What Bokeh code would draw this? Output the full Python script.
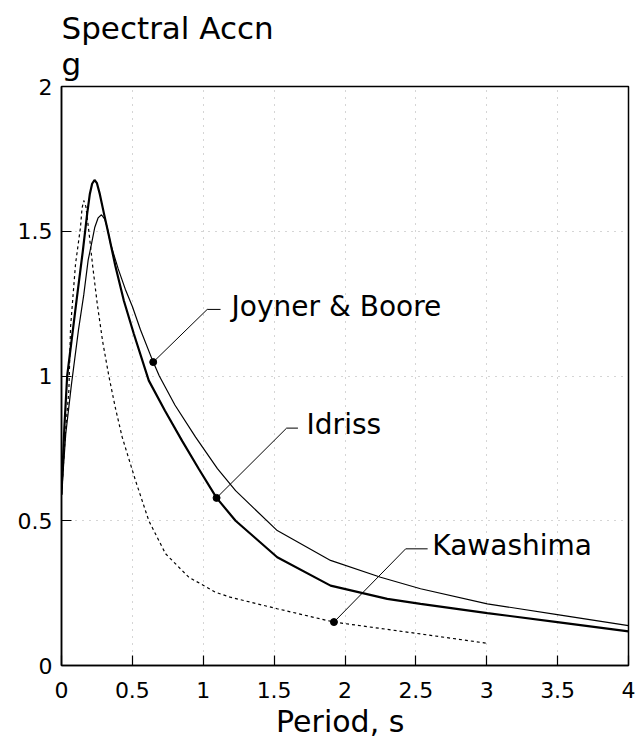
from bokeh.plotting import figure
from bokeh.models import Range1d, FixedTicker, NumeralTickFormatter
from bokeh.core.properties import value
from bokeh.embed import file_html
from bokeh.resources import INLINE

# ---- data ----
period_jb = [0.0, 0.03, 0.07, 0.12, 0.157, 0.188, 0.212, 0.235, 0.258, 0.282,
             0.305, 0.322, 0.346, 0.40, 0.45, 0.50, 0.557, 0.647, 0.69, 0.80,
             0.946, 1.10, 1.228, 1.522, 1.898, 2.251, 2.533, 3.004, 3.498, 4.0]
sa_jb = [0.59, 0.80, 0.97, 1.16, 1.28, 1.40, 1.457, 1.514, 1.546, 1.557,
         1.542, 1.514, 1.457, 1.37, 1.30, 1.24, 1.16, 1.048, 1.00, 0.90,
         0.789, 0.68, 0.604, 0.466, 0.363, 0.305, 0.265, 0.213, 0.176, 0.138]

period_id = [0.0, 0.02, 0.04, 0.106, 0.15, 0.181, 0.20, 0.216, 0.233, 0.25,
             0.27, 0.30, 0.334, 0.38, 0.44, 0.51, 0.616, 0.73, 0.852, 0.97,
             1.094, 1.228, 1.522, 1.898, 2.298, 2.533, 3.004, 3.498, 4.0]
sa_id = [0.59, 0.82, 1.00, 1.26, 1.43, 1.56, 1.629, 1.664, 1.677, 1.666,
         1.629, 1.56, 1.485, 1.38, 1.26, 1.146, 0.984, 0.88, 0.775, 0.678,
         0.579, 0.50, 0.374, 0.276, 0.230, 0.213, 0.181, 0.150, 0.118]

period_kw = [0.0, 0.03, 0.052, 0.064, 0.099, 0.134, 0.145, 0.157, 0.172, 0.193,
             0.22, 0.252, 0.29, 0.334, 0.38, 0.428, 0.522, 0.616, 0.734, 0.898,
             1.087, 1.19, 1.522, 1.922, 2.533, 3.0]
sa_kw = [0.59, 0.82, 0.95, 1.17, 1.387, 1.514, 1.58, 1.606, 1.585, 1.50,
         1.38, 1.25, 1.12, 1.00, 0.89, 0.789, 0.639, 0.50, 0.386, 0.305,
         0.253, 0.236, 0.196, 0.150, 0.109, 0.077]

label_names = ["Joyner & Boore", "Idriss", "Kawashima"]
marker_period = [0.647, 1.094, 1.922]
marker_sa = [1.048, 0.579, 0.150]
elbow_period = [1.028, 1.588, 2.428]
elbow_sa = [1.230, 0.820, 0.403]
end_period = [1.122, 1.668, 2.583]
label_period = [1.20, 1.729, 2.616]
label_sa = [1.240, 0.831, 0.414]

x_ticks = [0, 0.5, 1, 1.5, 2, 2.5, 3, 3.5, 4]
y_ticks = [0, 0.5, 1, 1.5, 2]

FONT = "DejaVu Sans"

p = figure(width=635, height=745, x_range=Range1d(0, 4), y_range=Range1d(0, 2),
           output_backend="svg", toolbar_location=None,
           min_border_left=61, min_border_right=7, min_border_top=86,
           min_border_bottom=80)

p.title.text = "Spectral Accn\ng"
p.title.text_font = FONT
p.title.text_font_size = "31px"
p.title.text_font_style = "normal"
p.title.align = "left"
p.title.text_color = "black"

p.outline_line_color = "black"
p.outline_line_width = 1.5
p.background_fill_color = "white"
p.border_fill_color = "white"

for ax in (p.xaxis[0], p.yaxis[0]):
    ax.major_tick_in = 10
    ax.major_tick_out = 0
    ax.minor_tick_in = 0
    ax.minor_tick_out = 0
    ax.axis_line_color = "black"
    ax.axis_line_width = 1.5
    ax.major_tick_line_color = "black"
    ax.major_tick_line_width = 1.2
    ax.major_label_text_font = FONT
    ax.major_label_text_font_size = "22px"
    ax.major_label_text_color = "black"
    ax.formatter = NumeralTickFormatter(format="0.[0]")

p.xaxis.ticker = FixedTicker(ticks=x_ticks)
p.yaxis.ticker = FixedTicker(ticks=y_ticks)
p.xaxis.major_label_standoff = 16
p.yaxis.major_label_standoff = 9
p.xaxis.axis_label = "Period,  s"
p.xaxis.axis_label_text_font = FONT
p.xaxis.axis_label_text_font_size = "30px"
p.xaxis.axis_label_text_font_style = "normal"
p.xaxis.axis_label_text_color = "black"
p.xaxis.axis_label_standoff = 3

p.xgrid.ticker = FixedTicker(ticks=x_ticks)
p.ygrid.ticker = FixedTicker(ticks=y_ticks)
for g in (p.xgrid[0], p.ygrid[0]):
    g.grid_line_color = "#aaaaaa"
    g.grid_line_dash = "1 6"
    g.grid_line_width = 1

# curves
p.line(period_jb, sa_jb, line_color="black", line_width=1.2)
p.line(period_id, sa_id, line_color="black", line_width=2.2)
p.line(period_kw, sa_kw, line_color="black", line_width=1.2, line_dash="3 3")

# leader lines
xs = [[m, e, n] for m, e, n in zip(marker_period, elbow_period, end_period)]
ys = [[m, e, e] for m, e in zip(marker_sa, elbow_sa)]
p.multi_line(xs, ys, line_color="black", line_width=1)
p.scatter(marker_period, marker_sa, size=7, color="black")

p.text(x=label_period, y=label_sa, text=label_names,
       text_font=value(FONT), text_font_size="28px",
       text_baseline="middle", text_align="left", text_color="black")

open("out.html", "w").write(file_html(p, INLINE))
